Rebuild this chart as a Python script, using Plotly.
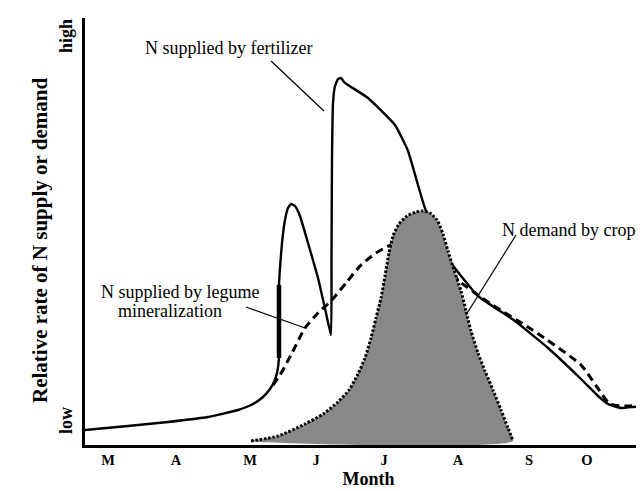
import plotly.graph_objects as go

# ---- data (x: horizontal time units, y: relative rate units) ----
month_labels = ["M", "A", "M", "J", "J", "A", "S", "O"]
month_pos = [23, 91, 165, 231, 299, 373, 444, 502]

fert_x = [0, 43, 83, 123, 153, 168, 178, 185, 189, 192, 194, 194, 195, 197, 200, 203, 206,
          210, 215, 223, 233, 241, 246, 246.5, 247, 248, 250, 253, 256, 259, 263, 283, 310,
          323, 333, 341, 348, 355, 361, 366, 393, 430, 463, 496, 513, 523, 536, 548, 567]
fert_y = [15, 19, 23, 28, 35, 41, 48, 56, 63, 72, 87, 160, 177, 202, 225, 237, 241,
          239, 229, 202, 167, 132, 110, 187, 287, 342, 359, 366, 367, 363, 360, 347, 320,
          294, 260, 234, 225, 207, 192, 182, 149, 124, 97, 66, 49, 41, 37, 38, 40]

fert_thick_x = [194, 194]
fert_thick_y = [87, 160]

legume_x = [188, 195, 206, 220, 233, 246, 261, 276, 291, 306, 323, 343, 363, 373,
            406, 446, 496, 512, 525, 543, 567]
legume_y = [60, 70, 90, 117, 132, 144, 162, 180, 192, 200, 202, 197, 179, 165,
            141, 116, 80, 58, 41, 39, 42]

crop_x = [166, 193, 220, 238, 253, 264, 273, 280, 286, 291, 296, 300, 304, 308, 314, 322,
          331, 338, 345, 352, 358, 363, 369, 376, 381, 386, 393, 400, 408, 416, 423, 428]
crop_y = [4, 9, 21, 31, 43, 55, 71, 87, 107, 127, 147, 169, 192, 209, 221, 229,
          233, 234, 232, 225, 211, 194, 175, 154, 134, 114, 92, 74, 55, 35, 17, 4]

serif = "Liberation Serif, Times New Roman, serif"

fig = go.Figure()

# legume mineralization (dashed)
fig.add_trace(go.Scatter(
    x=legume_x, y=legume_y, mode="lines",
    line=dict(color="black", width=3, dash="8px,5px", shape="spline", smoothing=0.6),
    showlegend=False))

# fertilizer (solid)
fig.add_trace(go.Scatter(
    x=fert_x, y=fert_y, mode="lines",
    line=dict(color="black", width=2.4, shape="spline", smoothing=0.4), showlegend=False))
fig.add_trace(go.Scatter(
    x=fert_thick_x, y=fert_thick_y, mode="lines",
    line=dict(color="black", width=4.5), showlegend=False))

# crop demand (gray fill over the lines, dotted outline)
fig.add_trace(go.Scatter(
    x=crop_x + [crop_x[0]], y=crop_y + [crop_y[0]],
    mode="lines", fill="toself", fillcolor="#888888",
    line=dict(color="rgba(0,0,0,0)", width=0, shape="spline", smoothing=0.6),
    hoverinfo="skip", showlegend=False))
fig.add_trace(go.Scatter(
    x=crop_x, y=crop_y, mode="lines",
    line=dict(color="black", width=3, dash="2.5px,1.8px", shape="spline", smoothing=0.6),
    showlegend=False))

# leader lines
leaders = [
    ((186, 384), (239, 334)),   # fertilizer
    ((161, 138), (220, 117)),   # legume
    ((431, 210), (381, 130)),   # crop
]
for (x0, y0), (x1, y1) in leaders:
    fig.add_shape(type="line", xref="x", yref="y", x0=x0, y0=y0, x1=x1, y1=y1,
                  line=dict(color="black", width=1.2))

labels = [
    ("N supplied by fertilizer", 143, 397),
    ("N supplied by legume", 95, 153),
    ("mineralization", 84.5, 134),
    ("N demand by crop", 483, 215),
]
for txt, x, y in labels:
    fig.add_annotation(x=x, y=y, xref="x", yref="y", text=txt, showarrow=False,
                       xanchor="center", yanchor="middle",
                       font=dict(family=serif, size=18, color="black"))

# y axis labels (paper coordinates, left of the plot area)
for txt, px, py, sz in [("<b>high</b>", -0.0335, 0.958, 18),
                        ("<b>low</b>", -0.0335, 0.056, 18),
                        ("<b>Relative rate of N supply or demand</b>", -0.0794, 0.48, 21)]:
    fig.add_annotation(x=px, y=py, xref="paper", yref="paper", text=txt,
                       showarrow=False, textangle=-90, xanchor="center", yanchor="middle",
                       font=dict(family=serif, size=sz, color="black"))

fig.update_layout(
    width=644, height=491,
    margin=dict(l=77, r=0, t=10, b=54),
    plot_bgcolor="white", paper_bgcolor="white",
    xaxis=dict(range=[0, 567], showgrid=False, zeroline=False, showline=True,
               linecolor="black", linewidth=2.5, ticks="",
               tickvals=month_pos, ticktext=["<b>%s</b>" % m for m in month_labels],
               tickfont=dict(family=serif, size=14.5, color="black"),
               title=dict(text="<b>Month</b>", font=dict(family=serif, size=18, color="black"),
                          standoff=6)),
    yaxis=dict(range=[0, 427], showgrid=False, zeroline=False, showline=True,
               linecolor="black", linewidth=2.5, ticks="", showticklabels=False),
)

fig.write_html("out.html")
